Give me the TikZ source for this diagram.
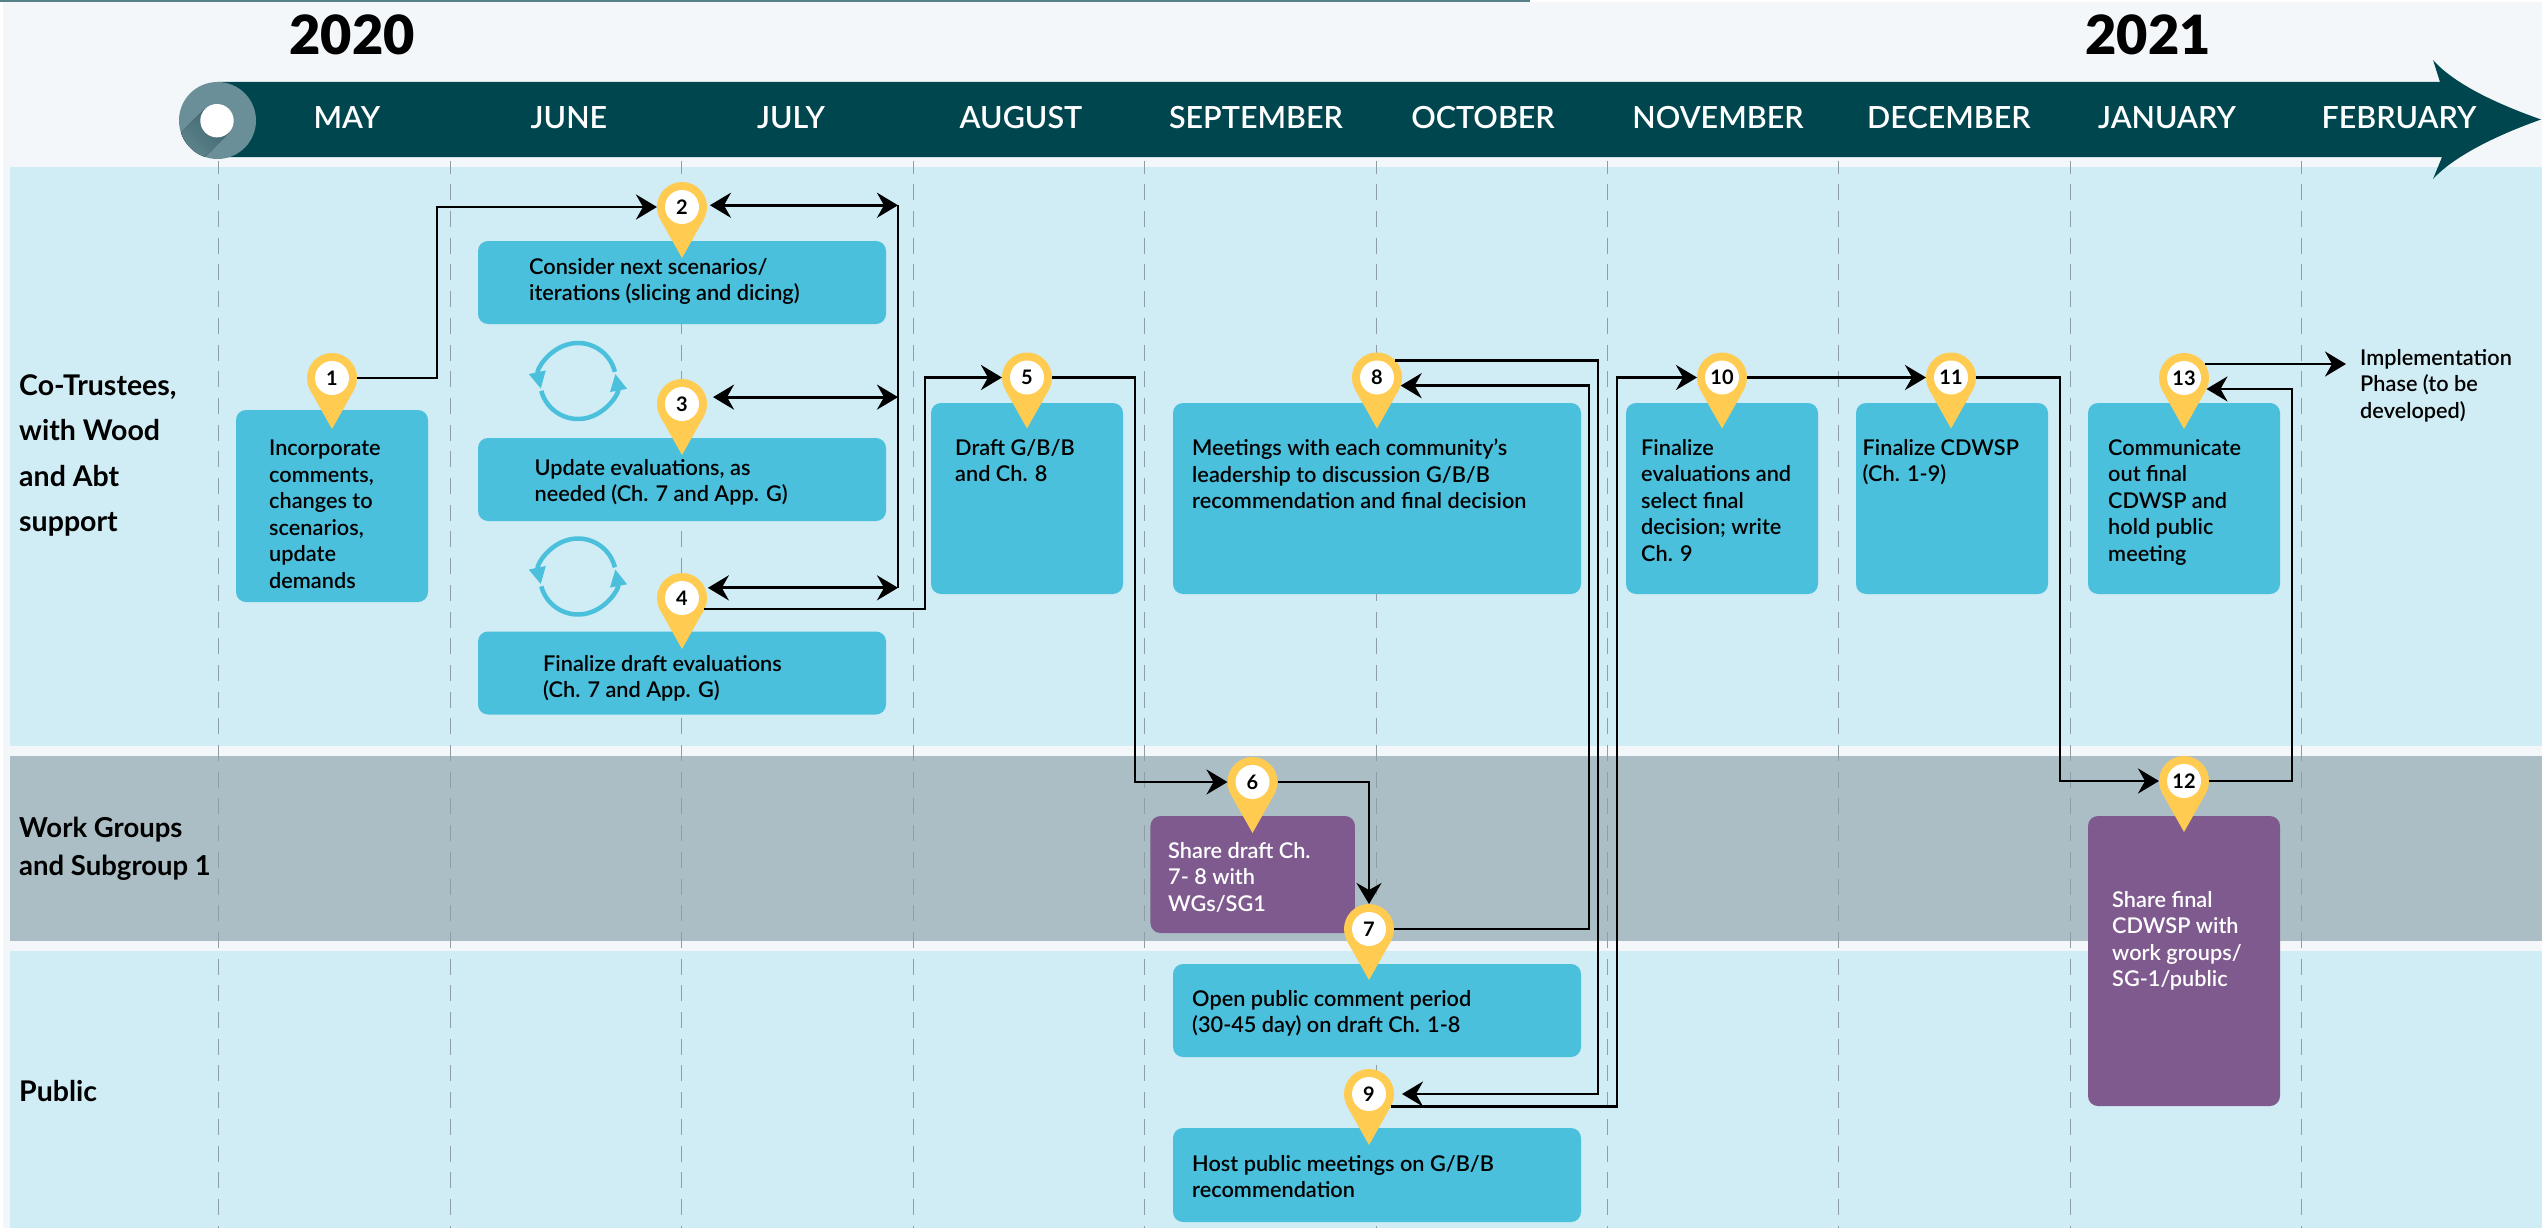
\documentclass[tikz,border=0pt]{standalone}
\usepackage{fontspec}
\setmainfont{Lato Semibold}[BoldFont=Lato Bold]
\newfontfamily\yearfont{Lato Black}
\usetikzlibrary{arrows.meta}
\definecolor{pagepale}{HTML}{F3F7FA}
\definecolor{bandblue}{HTML}{D0ECF4}
\definecolor{bandgray}{HTML}{ABBEC5}
\definecolor{barteal}{HTML}{00464F}
\definecolor{capteal}{HTML}{6B8F98}
\definecolor{capdark}{HTML}{3F666F}
\definecolor{taskblue}{HTML}{4BC0DC}
\definecolor{taskpurple}{HTML}{7E5A8E}
\definecolor{pinyellow}{HTML}{FFCB50}
\definecolor{tickgray}{HTML}{8E9EA4}
\tikzset{
  task/.style = {rectangle,rounded corners=10pt,fill=taskblue,inner sep=0pt},
  share/.style = {task,fill=taskpurple},
  tasktext/.style = {anchor=north west,inner sep=0pt,align=left,text=black,
    font=\fontsize{21.7}{26.5}\selectfont,execute at begin node={\rule{0pt}{18pt}}},
  rowtext/.style = {anchor=west,inner sep=0pt,align=left,font=\fontsize{28.5}{45.5}\selectfont\bfseries},
  month/.style = {inner sep=0pt,text=white,font=\fontsize{30.5}{31}\selectfont},
  year/.style = {inner sep=0pt,font=\fontsize{54}{54}\selectfont\yearfont},
  pinhead/.style = {circle,fill=pinyellow,minimum size=50pt,inner sep=0pt,outer sep=0pt,
    font=\fontsize{20}{20}\selectfont\bfseries,
    path picture={\fill[white] (path picture bounding box.center) circle (17pt);}},
  flow/.style = {line width=2.8pt},
  tick/.style = {draw=tickgray,line width=1pt,dash pattern=on 16pt off 10.7pt,dash phase=3.4pt},
  refresh/.style = {draw=taskblue,line width=4.5pt,>={Triangle[length=17pt,width=16pt]}},
}
\newcommand{\pinmark}[4]{%
  \fill[pinyellow] (#2-21.8,#3+12.3) -- (#2,#3+51) -- (#2+21.8,#3+12.3) -- cycle;
  \node[pinhead] (#1) at (#2,#3) {#4};}
\begin{document}
\begin{tikzpicture}[x=1pt,y=-1pt,>={Stealth[length=21pt,width=25pt,inset=7pt]}]
\useasboundingbox (0,0) rectangle (2542,1228);
% bands
\fill[white] (0,0) rectangle (2542,1228);
\fill[pagepale] (3,2) rectangle (2542,1228);
\fill[capteal!80!barteal] (0,0) rectangle (1530,2.5);
\fill[bandblue] (10,167) rectangle (2542,746);
\fill[bandgray] (10,756) rectangle (2542,941);
\fill[bandblue] (10,951) rectangle (2542,1228);
% month ticks
\draw[tick] (218,161) -- (218,1228);
\draw[tick] (450,161) -- (450,1228);
\draw[tick] (681,161) -- (681,1228);
\draw[tick] (913,161) -- (913,1228);
\draw[tick] (1144,161) -- (1144,1228);
\draw[tick] (1376,161) -- (1376,1228);
\draw[tick] (1607,161) -- (1607,1228);
\draw[tick] (1838,161) -- (1838,1228);
\draw[tick] (2070,161) -- (2070,1228);
\draw[tick] (2301,161) -- (2301,1228);
% timeline
\fill[barteal] (217,82) -- (2440,82) -- (2433,60) .. controls (2455,85) and (2500,105) .. (2541,119.5)
  .. controls (2500,134) and (2455,155) .. (2433,179) -- (2442,157) -- (217,157) -- cycle;
\fill[capteal] (217.5,120.5) circle (38.5pt);
\begin{scope}
\clip (217.5,120.5) circle (38.5pt);
\fill[bottom color=capteal,top color=capdark,shading angle=-45]
  (229,132.5) -- (190,171.5) -- (166,147.5) -- (205,108.5) -- cycle;
\end{scope}
\fill[white] (217,120.7) circle (16.7pt);
\node[year] (y2020) at (352,35) {2020};
\node[year] (y2021) at (2148,35) {2021};
\node[month] (may) at (347,118) {MAY};
\node[month] (jun) at (569,118) {JUNE};
\node[month] (jul) at (791,118) {JULY};
\node[month] (aug) at (1021,118) {AUGUST};
\node[month] (sep) at (1256,118) {SEPTEMBER};
\node[month] (oct) at (1483,118) {OCTOBER};
\node[month] (nov) at (1718,118) {NOVEMBER};
\node[month] (dec) at (1949,118) {DECEMBER};
\node[month] (jan) at (2167,118) {JANUARY};
\node[month] (feb) at (2399,118) {FEBRUARY};
% rows
\node[rowtext] (trustees) at (19,455.5) {Co-Trustees,\\with Wood\\and Abt\\support};
\node[rowtext,font=\fontsize{27.5}{38.5}\selectfont\bfseries] (groups) at (19,849) {Work Groups\\and Subgroup 1};
\node[rowtext] (public) at (19,1091) {Public};
% boxes
\node[task,minimum width=192pt,minimum height=192pt] (b1) at (332,506) {};
\node[task,minimum width=408pt,minimum height=83pt] (b2) at (682,282.5) {};
\node[task,minimum width=408pt,minimum height=83pt] (b3) at (682,479.5) {};
\node[task,minimum width=408pt,minimum height=83pt] (b4) at (682,673) {};
\node[task,minimum width=192pt,minimum height=191pt] (b5) at (1027,498.5) {};
\node[share,minimum width=204.5pt,minimum height=117pt] (b6) at (1252.7,874.5) {};
\node[task,minimum width=408pt,minimum height=93pt] (b7) at (1377,1010.5) {};
\node[task,minimum width=408pt,minimum height=191pt] (b8) at (1377,498.5) {};
\node[task,minimum width=408pt,minimum height=94pt] (b9) at (1377,1175) {};
\node[task,minimum width=192pt,minimum height=191pt] (b10) at (1722,498.5) {};
\node[task,minimum width=192pt,minimum height=191pt] (b11) at (1952,498.5) {};
\node[share,minimum width=192pt,minimum height=290pt] (b12) at (2184,961) {};
\node[task,minimum width=192pt,minimum height=191pt] (b13) at (2184,498.5) {};
% box texts
\node[tasktext] (t1) at (269,440) {Incorporate\\comments,\\changes to\\scenarios,\\update\\demands};
\node[tasktext] (t2) at (529,258) {Consider next scenarios/\\iterations (slicing and dicing)};
\node[tasktext] (t3) at (534.5,459) {Update evaluations, as\\needed (Ch. 7 and App. G)};
\node[tasktext] (t4) at (543,655) {Finalize draft evaluations\\(Ch. 7 and App. G)};
\node[tasktext] (t5) at (955,439) {Draft G/B/B\\and Ch. 8};
\node[tasktext,text=white] (t6) at (1168,842) {Share draft Ch.\\7- 8 with\\WGs/SG1};
\node[tasktext] (t7) at (1192,990) {Open public comment period\\(30-45 day) on draft Ch. 1-8};
\node[tasktext] (t8) at (1192,439) {Meetings with each community’s\\leadership to discussion G/B/B\\recommendation and final decision};
\node[tasktext] (t9) at (1192,1155) {Host public meetings on G/B/B\\recommendation};
\node[tasktext] (t10) at (1641,439) {Finalize\\evaluations and\\select final\\decision; write\\Ch. 9};
\node[tasktext] (t11) at (1862.5,439) {Finalize CDWSP\\(Ch. 1-9)};
\node[tasktext,text=white] (t12) at (2112,891) {Share final\\CDWSP with\\work groups/\\SG-1/public};
\node[tasktext] (t13) at (2108,439) {Communicate\\out final\\CDWSP and\\hold public\\meeting};
\node[tasktext] (impl) at (2360,349) {Implementation\\Phase (to be\\developed)};
% refresh icons
\draw[refresh,->] (578,381) ++(-14:38) arc (-14:-192:38);
\draw[refresh,->] (578,381) ++(165:38) arc (165:-11:38);
\draw[refresh,->] (578,576.5) ++(-14:38) arc (-14:-192:38);
\draw[refresh,->] (578,576.5) ++(165:38) arc (165:-11:38);
% pins
\pinmark{p1}{332}{378}{1}
\pinmark{p2}{682}{207}{2}
\pinmark{p3}{682}{404}{3}
\pinmark{p4}{682}{598}{4}
\pinmark{p5}{1027}{377.5}{5}
\pinmark{p6}{1252.5}{782}{6}
\pinmark{p7}{1369}{929}{7}
\pinmark{p8}{1377}{377.5}{8}
\pinmark{p9}{1369}{1094}{9}
\pinmark{p10}{1722}{377.5}{10}
\pinmark{p11}{1951}{377.5}{11}
\pinmark{p12}{2184}{781}{12}
\pinmark{p13}{2184}{378}{13}
% bends
\coordinate (bus) at (898,205);
\coordinate (bend1) at (437,378);
\coordinate (bend4) at (925,609);
\coordinate (bend5) at (1135,377.5);
\coordinate (bend7) at (1589,929);
\coordinate (bend8) at (1598,360);
\coordinate (bend9) at (1617,1106.1);
\coordinate (bend11) at (2060,377.5);
\coordinate (bend12) at (2292,781);
% edges
\draw[flow,->] (p1.east) -- (bend1) |- (p2.west);
\draw[flow,<->] ([xshift=3pt]p2.4) -- (p2.4 -| bus);
\draw[flow,<->] ([xshift=7pt]p3.16) -- (p3.16 -| bus);
\draw[flow,<->] ([xshift=3pt]p4.24) -- (p4.24 -| bus);
\draw[flow] (p2.4 -| bus) -- (p4.24 -| bus);
\draw[flow,->] (p4.-26) -- (p4.-26 -| bend4) |- (p5.west);
\draw[flow,->] (p5.east) -- (bend5) |- (p6.west);
\draw[flow,->] (p6.east) -| (p7.north);
\draw[flow,->] (p7.east) -- (bend7) |- (p8.-19);
\draw[flow,->] (p8.43) -- (p8.43 -| bend8) -- (bend8 |- p9.east) -- ([xshift=8pt]p9.east);
\draw[flow,->] (p9.-29) -- (p9.-29 -| bend9) |- (p10.west);
\draw[flow,->] (p10.east) -- (p11.west);
\draw[flow,->] (p11.east) -- (bend11) |- (p12.west);
\draw[flow,->] (p12.east) -- (bend12) |- (p13.-26);
\draw[flow,->] (p13.34) -- ([xshift=-14pt]p13.34 -| impl.west);
\end{tikzpicture}
\end{document}
